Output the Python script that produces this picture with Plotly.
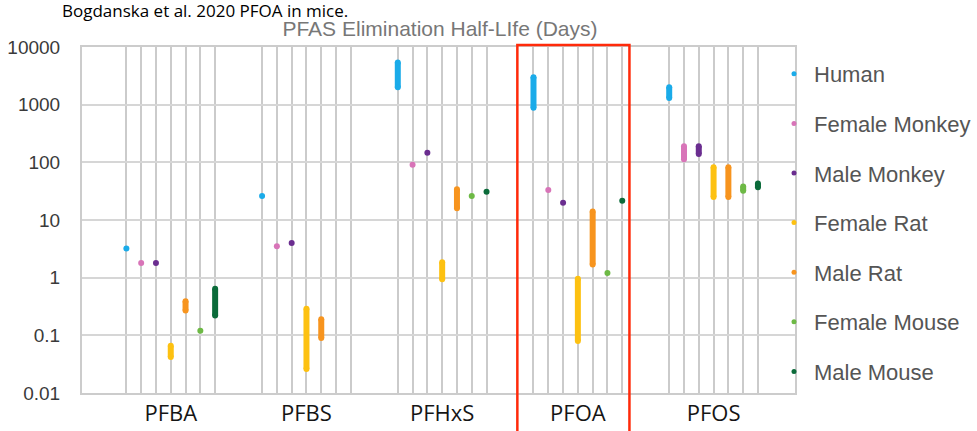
import plotly.graph_objects as go

# Compounds on the x axis
compounds = ["PFBA", "PFBS", "PFHxS", "PFOA", "PFOS"]

# Species shown in each compound group (left to right)
species = ["Human", "Female Monkey", "Male Monkey", "Female Rat",
           "Male Rat", "Female Mouse", "Male Mouse"]
colors = ["#1aabe9", "#d874b8", "#6a2d8f", "#fdc111",
          "#f7941e", "#6db945", "#0b6b3a"]

# Elimination half-life ranges in days (low, high); None = no data
human_low = [3.2, 26, 2000, 880, 1300]
human_high = [3.2, 26, 5400, 3000, 2000]
female_monkey_low = [1.8, 3.5, 91, 33, 113]
female_monkey_high = [1.8, 3.5, 91, 33, 190]
male_monkey_low = [1.8, 4.0, 147, 20, 140]
male_monkey_high = [1.8, 4.0, 147, 20, 190]
female_rat_low = [0.042, 0.026, 0.94, 0.08, 25]
female_rat_high = [0.066, 0.29, 1.85, 0.96, 82]
male_rat_low = [0.27, 0.09, 16, 1.7, 25]
male_rat_high = [0.39, 0.19, 34, 14, 82]
female_mouse_low = [0.12, None, 26, 1.2, 32]
female_mouse_high = [0.12, None, 26, 1.2, 38]
male_mouse_low = [0.22, None, 31, 21.6, 37]
male_mouse_high = [0.64, None, 31, 21.6, 43]

lows = [human_low, female_monkey_low, male_monkey_low, female_rat_low,
        male_rat_low, female_mouse_low, male_mouse_low]
highs = [human_high, female_monkey_high, male_monkey_high, female_rat_high,
         male_rat_high, female_mouse_high, male_mouse_high]

y_tickvals = [0.01, 0.1, 1, 10, 100, 1000, 10000]
y_ticktext = ["0.01", "0.1", "1", "10", "100", "1000", "10000"]

STEP = 0.109  # spacing between species columns within a group
n_sp = len(species)


def col_x(group, j):
    return group + (j - (n_sp - 1) / 2) * STEP


fig = go.Figure()

for j, name in enumerate(species):
    xs, ys = [], []
    for g in range(len(compounds)):
        lo, hi = lows[j][g], highs[j][g]
        if lo is None:
            continue
        x = col_x(g, j)
        if lo == hi:
            xs += [x, None]
            ys += [lo, None]
        else:
            xs += [x, x, None]
            ys += [lo, hi, None]
    fig.add_trace(go.Scatter(
        x=xs, y=ys, mode="lines+markers", name=name,
        line=dict(color=colors[j], width=6),
        marker=dict(color=colors[j], size=6),
        showlegend=False, legendgroup=name, hoverinfo="skip",
    ))
    # small dot used as the legend key
    fig.add_trace(go.Scatter(
        x=[None], y=[None], mode="markers", name=name,
        marker=dict(color=colors[j], size=5),
        legendgroup=name, showlegend=True,
    ))

column_positions = [col_x(g, j) for g in range(len(compounds)) for j in range(n_sp)]

grid_v = "#cbcbcb"
grid_h = "#d6d6d6"
fig.update_layout(
    width=977, height=431,
    margin=dict(l=82, r=182, t=47, b=38, autoexpand=False),
    plot_bgcolor="white", paper_bgcolor="white",
    title=dict(text="PFAS Elimination Half-LIfe (Days)", x=440 / 977, xanchor="center",
               y=1 - 29 / 431, yanchor="middle",
               font=dict(family="Liberation Sans", size=21, color="#777777")),
    xaxis=dict(
        range=[-0.654, 4.60], tickmode="array",
        tickvals=list(range(len(compounds))), ticktext=compounds,
        showgrid=True, gridcolor=grid_v, gridwidth=2,
        minor=dict(tickvals=column_positions, showgrid=True, gridcolor=grid_v, gridwidth=2),
        showline=True, linecolor="#cccccc", linewidth=2, mirror=True,
        zeroline=False, ticks="", ticklabelstandoff=0,
        tickfont=dict(family="Open Sans", size=22, color="#151515"),
    ),
    yaxis=dict(
        type="log", range=[-2, 4], tickmode="array",
        tickvals=y_tickvals, ticktext=y_ticktext,
        showgrid=True, gridcolor=grid_h, gridwidth=2,
        showline=True, linecolor="#cccccc", linewidth=2, mirror=True,
        zeroline=False, ticks="", ticklabelstandoff=16,
        tickfont=dict(family="Liberation Sans", size=19, color="#3a3a3a"),
    ),
    legend=dict(
        xref="container", yref="container",
        x=774 / 977, xanchor="left", y=1 - 53 / 431, yanchor="top",
        bgcolor="rgba(0,0,0,0)", tracegroupgap=18, itemwidth=30, maxheight=420,
        font=dict(family="Liberation Sans", size=22, color="#555555"),
    ),
    showlegend=True,
)

# Highlight box around the PFOA group
fig.add_shape(type="rect", xref="x", yref="paper",
              x0=2.554, x1=3.38, y0=-0.2, y1=1 + 2 / 346,
              line=dict(color="#ff2a0a", width=2.5), fillcolor="rgba(0,0,0,0)",
              layer="above")

fig.add_annotation(text="Bogdanska et al. 2020 PFOA in mice.", xref="paper", yref="paper",
                   x=(60 - 82) / 713, y=1 + (47 - 10) / 346, xanchor="left", yanchor="middle",
                   showarrow=False, font=dict(family="Open Sans", size=17, color="#000000"))

fig.write_html("out.html")
